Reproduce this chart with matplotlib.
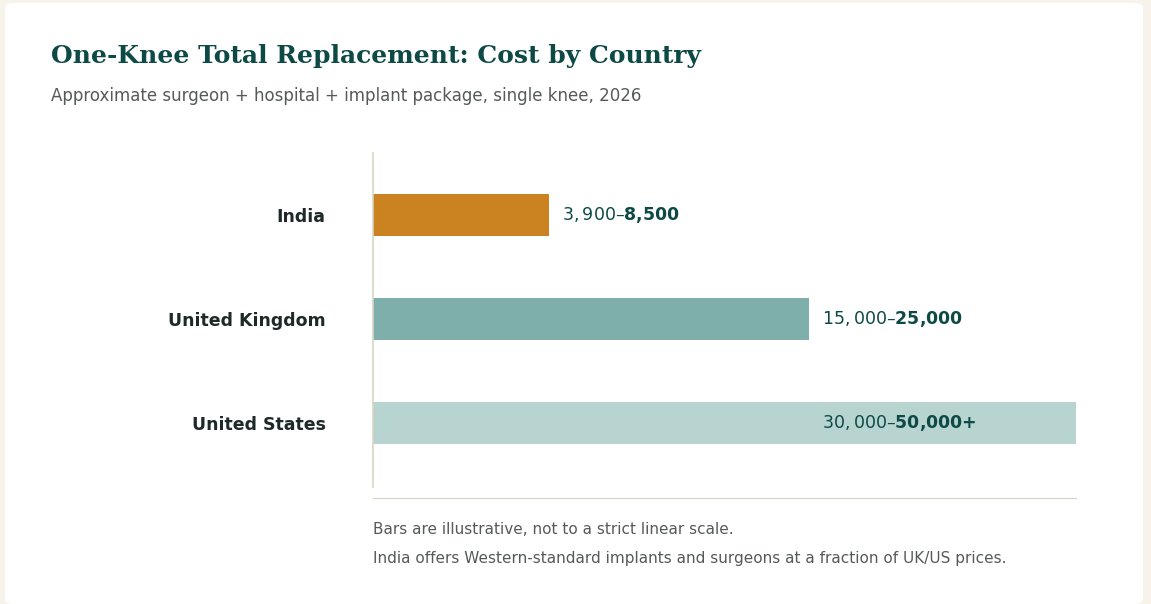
import matplotlib.pyplot as plt
from matplotlib.patches import FancyBboxPatch
from matplotlib.lines import Line2D

plt.rcParams['font.family'] = ['DejaVu Sans']

countries = ["India", "United Kingdom", "United States"]
cost_labels = ["$3,900 – $8,500", "$15,000 – $25,000", "$30,000 – $50,000+"]
bar_lengths = [25, 62, 100]  # illustrative lengths, not to scale
colors = ["#cb8322", "#7eafaa", "#b8d4d0"]

W, H = 1151, 604
fig = plt.figure(figsize=(W / 100, H / 100), dpi=100)
fig.patch.set_facecolor("#f7f3ea")

card = FancyBboxPatch((5 / W, 0), 1138 / W, 1 - 3 / H,
                      boxstyle="round,pad=0,rounding_size=0.008",
                      transform=fig.transFigure, facecolor="white",
                      edgecolor="none", zorder=0)
fig.patches.append(card)

ax = fig.add_axes([373 / W, 1 - 498 / H, 703 / W, 345 / H])
ax.set_zorder(2)
ax.set_facecolor("none")
ypos = [2, 1, 0]
bars = ax.barh(ypos, bar_lengths, height=0.41, color=colors, zorder=2)
ax.set_xlim(0, 100)
ax.set_ylim(-0.721, 2.596)
for sp in ["top", "right", "left"]:
    ax.spines[sp].set_visible(False)
ax.spines["bottom"].set_color("#d9d4c4")
ax.add_line(Line2D([0, 0], [11 / 345, 1], transform=ax.transAxes,
                   color="#d9d4c4", lw=1.2, clip_on=False))
ax.set_xticks([])
ax.set_yticks(ypos)
ax.set_yticklabels(countries, fontsize=12.5, fontweight="bold", color="#1f2a28")
ax.tick_params(axis="y", length=0, pad=34)

for y, L, lab in zip(ypos, bar_lengths, cost_labels):
    x = min(L, 62) + 1.9
    ax.text(x, y, lab, va="center", ha="left", fontsize=12.5,
            fontweight="bold", color="#0e4a45", zorder=3, clip_on=False)

fig.text(51 / W, 1 - 56 / H, "One-Knee Total Replacement: Cost by Country",
         family="DejaVu Serif", fontsize=18, fontweight="bold",
         color="#0e4a45", va="center", zorder=3)
fig.text(51 / W, 1 - 96 / H,
         "Approximate surgeon + hospital + implant package, single knee, 2026",
         fontsize=12, color="#555a58", va="center", zorder=3)
t1 = fig.text(373 / W, 1 - 529 / H,
              "Bars are illustrative, not to a strict linear scale.",
              fontsize=11, color="#555a58", va="center", zorder=3)
t2 = fig.text(373 / W, 1 - 559 / H,
              "India offers Western-standard implants and surgeons at a fraction of UK/US prices.",
              fontsize=11, color="#555a58", va="center", zorder=3)
for t in (t1, t2):
    t.set_clip_path(card)

fig.savefig("out.png", dpi=100, facecolor=fig.get_facecolor())
